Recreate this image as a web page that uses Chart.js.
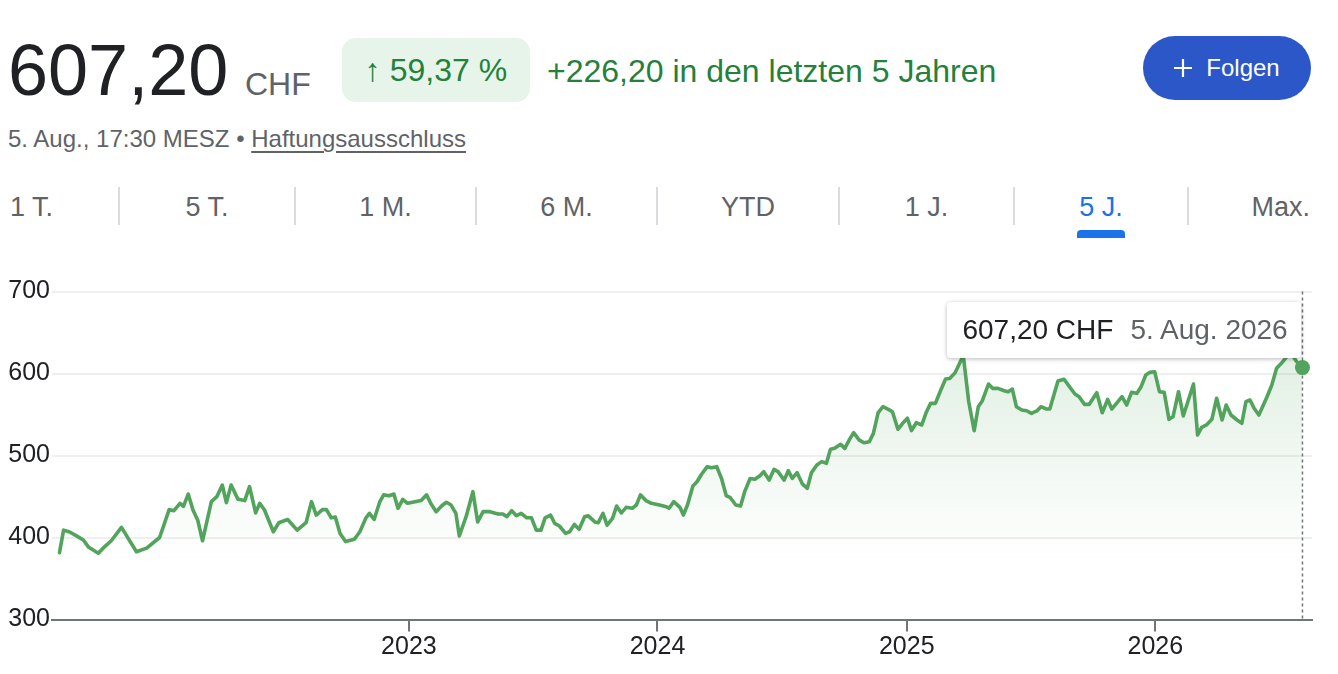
<!DOCTYPE html>
<html><head><meta charset="utf-8">
<script src="https://cdn.jsdelivr.net/npm/chart.js@4.4.1/dist/chart.umd.min.js"></script>
<style>
html,body{margin:0;padding:0;background:#fff;}
body{width:1338px;height:674px;position:relative;overflow:hidden;font-family:"Liberation Sans",Arial,Helvetica,sans-serif;color:#202124;}
.abs{position:absolute;white-space:nowrap;line-height:1;}
#price{left:8px;top:34px;font-size:72px;color:#202124;}
#cur{left:245px;top:68px;font-size:32px;color:#5f6368;}
#pill{left:342px;top:38px;width:188px;height:64px;border-radius:14px;background:#e6f4ea;color:#24803a;font-size:32px;display:flex;align-items:center;justify-content:center;}
#chg{left:547px;top:55px;font-size:32px;color:#24803a;}
#sub{left:8px;top:127px;font-size:24px;color:#5f6368;}
#sub u{text-underline-offset:4px;text-decoration-thickness:1.5px;}
#follow{left:1143px;top:36px;width:168px;height:64px;border-radius:32px;background:#2b57c9;color:#fff;font-size:24px;display:flex;align-items:center;justify-content:center;}
#follow svg{margin-right:14px;}
.tab{position:absolute;top:194px;font-size:27px;line-height:1;color:#5f6368;white-space:nowrap;}
.sep{position:absolute;top:187px;width:2px;height:38px;background:#dadce0;}
#ind{position:absolute;left:1077px;top:230px;width:48px;height:8px;border-radius:4px 4px 0 0;background:#1a73e8;}
#wrap{position:absolute;left:0;top:262px;width:1338px;height:412px;}
#tip{position:absolute;background:#fff;border-radius:4px;box-shadow:0 1px 4px rgba(0,0,0,0.28);height:56px;display:flex;align-items:center;padding:0 13px 0 15px;font-size:28px;line-height:1;white-space:nowrap;}
#tip .v{color:#202124;margin-right:17px;}
#tip .d{color:#5f6368;}
</style>
</head>
<body>
<div id="price" class="abs">607,20</div>
<div id="cur" class="abs">CHF</div>
<div id="pill" class="abs">↑ 59,37 %</div>
<div id="chg" class="abs">+226,20 in den letzten 5 Jahren</div>
<div id="sub" class="abs">5. Aug., 17:30 MESZ • <u>Haftungsausschluss</u></div>
<div id="follow" class="abs"><svg width="18" height="18" viewBox="0 0 18 18"><path d="M9 0V18M0 9H18" stroke="#fff" stroke-width="2.2"/></svg><span>Folgen</span></div>
<div id="tabs"></div>
<div id="ind"></div>
<div id="wrap"><canvas id="c"></canvas></div>
<div id="tip"><span class="v"></span><span class="d"></span></div>
<script>
// ---- data ----
const dates = [
'2021-08-06','2021-08-12','2021-08-21','2021-08-31','2021-09-10','2021-09-18','2021-10-02','2021-10-09','2021-10-21','2021-11-05','2021-11-27','2021-12-12','2021-12-31',
'2022-01-14','2022-01-21','2022-01-30','2022-02-04','2022-02-11','2022-02-18','2022-02-25','2022-03-04','2022-03-17','2022-03-25','2022-04-02','2022-04-08','2022-04-15','2022-04-25','2022-05-05','2022-05-12','2022-05-21','2022-05-27','2022-06-03',
'2022-06-16','2022-06-24','2022-07-07','2022-07-21','2022-08-03','2022-08-11','2022-08-18','2022-08-27','2022-09-02','2022-09-09','2022-09-15','2022-09-22','2022-09-30','2022-10-13','2022-10-21','2022-10-30','2022-11-04','2022-11-11','2022-11-19','2022-11-25','2022-12-03','2022-12-10','2022-12-16','2022-12-23','2022-12-30',
'2023-01-10','2023-01-19','2023-01-27','2023-02-02','2023-02-10','2023-02-18','2023-02-25','2023-03-04','2023-03-11','2023-03-16','2023-03-26','2023-04-05',
'2023-04-12','2023-04-20','2023-04-30','2023-05-12','2023-05-19','2023-05-25','2023-06-01','2023-06-08','2023-06-15','2023-06-23','2023-06-30','2023-07-07','2023-07-14','2023-07-20','2023-07-28','2023-08-03','2023-08-10','2023-08-19','2023-08-25','2023-09-01','2023-09-08','2023-09-16','2023-09-21','2023-10-01','2023-10-06','2023-10-13','2023-10-19','2023-10-27','2023-11-02','2023-11-09','2023-11-16','2023-11-25','2023-12-01','2023-12-07','2023-12-15','2023-12-23',
'2024-01-04','2024-01-14','2024-01-18','2024-01-25','2024-02-03',
'2024-02-08','2024-02-14','2024-02-22','2024-02-28','2024-03-06','2024-03-14','2024-03-20','2024-03-28','2024-04-04','2024-04-11','2024-04-17','2024-04-25','2024-05-02','2024-05-08','2024-05-16','2024-05-23','2024-05-30','2024-06-05','2024-06-13','2024-06-20','2024-06-26','2024-07-05','2024-07-11','2024-07-17','2024-07-24','2024-08-01','2024-08-08','2024-08-14','2024-08-22','2024-08-29','2024-09-05','2024-09-11','2024-09-17','2024-09-26','2024-10-02','2024-10-09','2024-10-15','2024-10-23','2024-10-30','2024-11-07','2024-11-13','2024-11-20','2024-11-27','2024-12-05','2024-12-11','2024-12-19','2024-12-26',
'2025-01-02','2025-01-08','2025-01-15','2025-01-23','2025-01-30','2025-02-05','2025-02-12','2025-02-20','2025-02-27','2025-03-05','2025-03-13','2025-03-25','2025-04-02','2025-04-10','2025-04-16','2025-04-22','2025-05-01','2025-05-07','2025-05-15','2025-05-24','2025-05-30','2025-06-05','2025-06-11','2025-06-19','2025-06-26','2025-07-03','2025-07-11','2025-07-17','2025-07-25','2025-07-30','2025-08-11','2025-08-20','2025-08-29','2025-09-05','2025-09-11','2025-09-19','2025-09-26','2025-10-07','2025-10-15','2025-10-23','2025-10-29','2025-11-05','2025-11-13','2025-11-20','2025-11-27','2025-12-05','2025-12-11','2025-12-18','2025-12-24','2025-12-31',
'2026-01-07','2026-01-14','2026-01-21','2026-01-27','2026-02-04','2026-02-11','2026-02-26','2026-03-04','2026-03-10','2026-03-17','2026-03-25','2026-04-01','2026-04-09','2026-04-15','2026-04-22','2026-05-01','2026-05-08','2026-05-14','2026-05-20','2026-05-26','2026-06-02','2026-06-14','2026-06-21','2026-06-28','2026-07-05','2026-07-13','2026-07-20','2026-07-27','2026-08-05'
];
const closes = [
381.5,409,406.7,402,397,388,380.7,387,396,412.4,382.7,387,400,
434,432.7,441.7,438,453,433.5,421,396,443.7,449.8,464,442.5,464,446.6,445,462,430,441.7,433.5,
407,418,422,409,418,443.7,427.4,434,434,424,425,405,395,397.8,407,424,429.5,422,443,452,451,453,435.6,446.6,441.7,
443.7,445,452,441.7,431.5,438.4,443,439.6,429.5,401.8,425.4,455.9,
419,431.5,431.5,428.7,428.7,425.4,432.7,426.6,429.5,424,424,409,409,424,427.4,417.3,414,405,407,416,410,425.4,426.6,419,418,429.5,415,423.4,438.4,430,436.8,435.6,439.6,452,445,441.7,
439.6,437.6,435.6,443.7,436.8,
427.4,439.6,462.8,468,477.4,486.4,485,486.4,472,451,448.5,439.6,438.4,455.9,472,471,475,480.3,470,483,480.3,470,481.5,472,479,465,460,479,488.4,492.5,490.5,507.5,508.7,513.6,508.7,519.7,527.8,519,515.6,516.8,527,552.2,559.5,556.3,553.4,532,539.3,
545.4,530.3,540,537.2,553.4,563.6,563.6,579.9,593.3,594,601,622,565.6,530.3,559.5,566.8,587.2,581.9,581.9,579,577.8,581,559.5,555.5,554.6,551.4,554.3,559.5,556.7,556.7,590.9,593,582.7,575,571.7,562.4,562.4,576.6,552.2,568.5,556.7,563.6,571.7,561.6,577,575.8,583.9,598.2,601.4,602.2,
577.8,577,544.1,547.3,577.8,548.2,587.2,525,534.4,537.2,544.1,569.8,543.3,561.6,549.4,543.3,539.3,565.6,567.7,557.6,549.4,571.7,586,606.3,612.4,620.5,624,615,607.2
];
const yearTicks = [2023, 2024, 2025, 2026];
const yTicks = [300, 400, 500, 600, 700];
const xRange = ['2021-07-26', '2026-08-19'];
const ranges = ['1 T.', '5 T.', '1 M.', '6 M.', 'YTD', '1 J.', '5 J.', 'Max.'];
const activeRange = '5 J.';
const monthsDe = ['Jan.','Feb.','März','Apr.','Mai','Juni','Juli','Aug.','Sept.','Okt.','Nov.','Dez.'];

// ---- range tabs ----
const cellEdges = [0, 119, 295, 476, 657, 839, 1014, 1188, 1338];
const tabs = document.getElementById('tabs');
ranges.forEach((r, i) => {
  const el = document.createElement('div');
  el.className = 'tab';
  el.textContent = r;
  const l = cellEdges[i], w = cellEdges[i + 1] - cellEdges[i];
  el.style.left = l + 'px'; el.style.width = w + 'px';
  if (i === 0) { el.style.textAlign = 'left'; el.style.paddingLeft = '10px'; el.style.width = (w - 10) + 'px'; }
  else if (i === ranges.length - 1) { el.style.textAlign = 'right'; el.style.width = (w - 28) + 'px'; }
  else el.style.textAlign = 'center';
  if (r === activeRange) el.style.color = '#1a73e8';
  tabs.appendChild(el);
  if (i > 0) {
    const s = document.createElement('div');
    s.className = 'sep'; s.style.left = (l - 1) + 'px';
    tabs.appendChild(s);
  }
});

// ---- chart ----
const toMs = s => Date.parse(s + 'T00:00:00Z');
const points = dates.map((d, i) => ({ x: toMs(d), y: closes[i] }));
const last = points.length - 1;
const GREEN = '#52a35c';

Chart.defaults.font.family = '"Liberation Sans", Arial, Helvetica, sans-serif';

const cursorPlugin = {
  id: 'cursor',
  beforeDatasetsDraw(chart) {
    const meta = chart.getDatasetMeta(0);
    const pt = meta.data[last];
    const { ctx, chartArea } = chart;
    ctx.save();
    ctx.strokeStyle = '#70757a';
    ctx.lineWidth = 1.5;
    ctx.setLineDash([3, 3]);
    ctx.beginPath();
    ctx.moveTo(pt.x, chartArea.top);
    ctx.lineTo(pt.x, chartArea.bottom);
    ctx.stroke();
    ctx.restore();
  },
  afterRender(chart) {
    const pt = chart.getDatasetMeta(0).data[last];
    const tip = document.getElementById('tip');
    const d = new Date(points[last].x);
    tip.querySelector('.v').textContent = closes[last].toFixed(2).replace('.', ',') + ' CHF';
    tip.querySelector('.d').textContent = d.getUTCDate() + '. ' + monthsDe[d.getUTCMonth()] + ' ' + d.getUTCFullYear();
    const wrap = document.getElementById('wrap');
    tip.style.left = (wrap.offsetLeft + pt.x - 2 - tip.offsetWidth) + 'px';
    tip.style.top = (wrap.offsetTop + pt.y - 9.5 - tip.offsetHeight) + 'px';
  }
};

new Chart(document.getElementById('c'), {
  type: 'line',
  data: {
    datasets: [{
      data: points,
      borderColor: GREEN,
      borderWidth: 3.6,
      tension: 0,
      borderJoinStyle: 'round',
      borderCapStyle: 'round',
      fill: 'start',
      backgroundColor: (ctx) => {
        const area = ctx.chart.chartArea;
        if (!area) return 'rgba(82,163,92,0.08)';
        const g = ctx.chart.ctx.createLinearGradient(0, area.top, 0, area.bottom);
        g.addColorStop(0, 'rgba(82,163,92,0.22)');
        g.addColorStop(0.82, 'rgba(82,163,92,0)');
        g.addColorStop(1, 'rgba(82,163,92,0)');
        return g;
      },
      pointRadius: (ctx) => ctx.dataIndex === last ? 7.5 : 0,
      pointHoverRadius: 0,
      pointBackgroundColor: GREEN,
      pointBorderWidth: 0
    }]
  },
  options: {
    responsive: true,
    maintainAspectRatio: false,
    animation: false,
    events: [],
    layout: { padding: { top: 29.5, right: 26, left: 0, bottom: 0 } },
    plugins: { legend: { display: false }, tooltip: { enabled: false } },
    scales: {
      x: {
        type: 'linear',
        min: toMs(xRange[0]),
        max: toMs(xRange[1]),
        afterBuildTicks: (ax) => { ax.ticks = yearTicks.map(y => ({ value: Date.UTC(y, 0, 1) })); },
        afterFit: (ax) => { ax.height = 54.5; },
        ticks: {
          callback: (v) => String(new Date(v).getUTCFullYear()),
          color: '#202124', font: { size: 25 }, padding: 1, maxRotation: 0, autoSkip: false
        },
        grid: { drawOnChartArea: false, drawTicks: true, tickLength: 12, color: '#70757a', lineWidth: 2 },
        border: { display: true, color: '#70757a', width: 2 }
      },
      y: {
        min: 300,
        max: 700,
        afterBuildTicks: (ax) => { ax.ticks = yTicks.map(v => ({ value: v })); },
        afterFit: (ax) => { ax.width = 52; },
        ticks: { color: '#202124', font: { size: 25 }, padding: 2 },
        grid: { color: '#efefef', lineWidth: 2, drawTicks: false },
        border: { display: false }
      }
    }
  },
  plugins: [cursorPlugin]
});
</script>
</body></html>
